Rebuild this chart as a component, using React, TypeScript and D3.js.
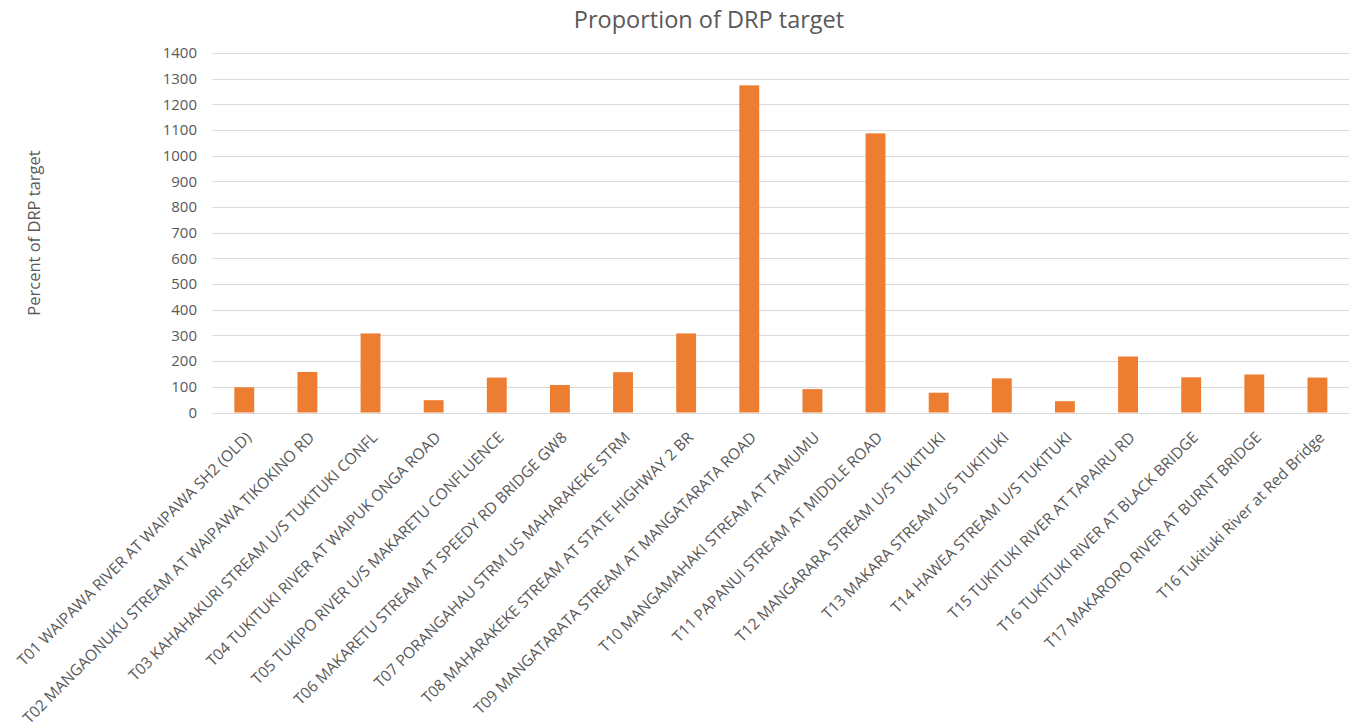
import React from "react";
import * as d3 from "d3";

const sites: string[] = [
  "T01 WAIPAWA RIVER AT WAIPAWA SH2 (OLD)",
  "T02 MANGAONUKU STREAM AT WAIPAWA TIKOKINO RD",
  "T03 KAHAHAKURI STREAM U/S TUKITUKI CONFL",
  "T04 TUKITUKI RIVER AT WAIPUK ONGA ROAD",
  "T05 TUKIPO RIVER U/S MAKARETU CONFLUENCE",
  "T06 MAKARETU STREAM AT SPEEDY RD BRIDGE GW8",
  "T07 PORANGAHAU STRM US MAHARAKEKE STRM",
  "T08 MAHARAKEKE STREAM AT STATE HIGHWAY 2 BR",
  "T09 MANGATARATA STREAM AT MANGATARATA ROAD",
  "T10 MANGAMAHAKI STREAM AT TAMUMU",
  "T11 PAPANUI STREAM AT MIDDLE ROAD",
  "T12 MANGARARA STREAM U/S TUKITUKI",
  "T13 MAKARA STREAM U/S TUKITUKI",
  "T14 HAWEA STREAM U/S TUKITUKI",
  "T15 TUKITUKI RIVER AT TAPAIRU RD",
  "T16 TUKITUKI RIVER AT BLACK BRIDGE",
  "T17 MAKARORO RIVER AT BURNT BRIDGE",
  "T16 Tukituki River at Red Bridge",
];

const percentOfTarget: number[] = [
  98, 158, 308, 48, 136, 107, 157, 308, 1274, 91, 1087, 77, 133, 44, 218, 137, 148, 136,
];

const yTicks: number[] = [0, 100, 200, 300, 400, 500, 600, 700, 800, 900, 1000, 1100, 1200, 1300, 1400];

const chartTitle = "Proportion of DRP target";
const yAxisTitle = "Percent of DRP target";

const W = 1359;
const H = 727;
const FONT = "'Open Sans', sans-serif";
const TEXT = "#595959";

export default function App() {
  const left = 212.7;
  const right = 1349;
  const top = 53;
  const bottom = 412.5;

  const x = d3
    .scaleBand<number>()
    .domain(d3.range(sites.length))
    .range([left, right])
    .paddingInner(0.685)
    .paddingOuter(0.3425);

  const y = d3.scaleLinear().domain([0, 1400]).range([bottom, top]);

  return (
    <svg
      width={W}
      height={H}
      style={{ position: "absolute", left: 0, top: 0, display: "block", background: "#fff" }}
    >
      <text
        x={709}
        y={28}
        textAnchor="middle"
        fontFamily={FONT}
        fontSize={23.5}
        fill={TEXT}
      >
        {chartTitle}
      </text>

      <text
        transform={`translate(40,233) rotate(-90)`}
        textAnchor="middle"
        fontFamily={FONT}
        fontSize={16.5}
        fill={TEXT}
      >
        {yAxisTitle}
      </text>

      {yTicks.map((t) => (
        <g key={t}>
          <line
            x1={left}
            x2={right}
            y1={Math.round(y(t)) + 0.5}
            y2={Math.round(y(t)) + 0.5}
            stroke="#d9d9d9"
            strokeWidth={1}
          />
          <text
            x={197}
            y={y(t)}
            dy="0.35em"
            textAnchor="end"
            fontFamily={FONT}
            fontSize={15}
            fill={TEXT}
          >
            {t}
          </text>
        </g>
      ))}

      {percentOfTarget.map((v, i) => (
        <rect
          key={i}
          x={x(i)}
          y={y(v)}
          width={x.bandwidth()}
          height={y(0) - y(v)}
          fill="#ED7D31"
        />
      ))}

      {sites.map((s, i) => {
        const cx = (x(i) as number) + x.bandwidth() / 2;
        return (
          <text
            key={i}
            transform={`translate(${cx + 8},${bottom + 26}) rotate(-45)`}
            textAnchor="end"
            fontFamily={FONT}
            fontSize={15.5}
            fill={TEXT}
          >
            {s}
          </text>
        );
      })}
    </svg>
  );
}
